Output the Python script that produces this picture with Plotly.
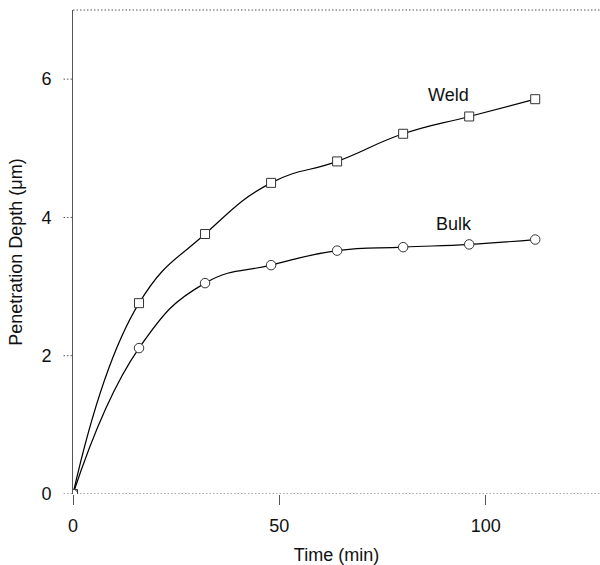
import plotly.graph_objects as go

time_min = [0, 16, 32, 48, 64, 80, 96, 112]
weld_depth = [0, 2.76, 3.76, 4.50, 4.81, 5.21, 5.46, 5.71]
bulk_depth = [0, 2.11, 3.05, 3.31, 3.52, 3.57, 3.61, 3.68]

x_ticks = [0, 50, 100]
y_ticks = [0, 2, 4, 6]

labels = [("Weld", 91.1, 5.77), ("Bulk", 92.3, 3.90)]

FONT = "Liberation Sans, Arial, sans-serif"
GRAY = "#555555"
DOTS = "1.5px,2px"

fig = go.Figure()
fig.add_trace(go.Scatter(
    x=time_min, y=weld_depth, mode="lines+markers", name="Weld",
    line=dict(color="black", width=1.2, shape="spline", smoothing=1.3),
    marker=dict(symbol="square", size=9, color="white", line=dict(color="#333333", width=1)),
))
fig.add_trace(go.Scatter(
    x=time_min, y=bulk_depth, mode="lines+markers", name="Bulk",
    line=dict(color="black", width=1.2, shape="spline", smoothing=1.3),
    marker=dict(symbol="circle", size=9.5, color="white", line=dict(color="#333333", width=1)),
))

for text, lx, ly in labels:
    fig.add_annotation(x=lx, y=ly, text=text, showarrow=False,
                       font=dict(family=FONT, size=18, color="#111111"))

# dotted zero line and dotted top frame
fig.add_shape(type="line", xref="paper", yref="y", x0=0, x1=1, y0=0, y1=0,
              line=dict(color=GRAY, width=1, dash=DOTS), layer="below")
fig.add_shape(type="line", xref="paper", yref="paper", x0=0, x1=1, y0=1, y1=1,
              line=dict(color=GRAY, width=1, dash=DOTS), layer="below")
# dotted y ticks
for t in y_ticks:
    fig.add_shape(type="line", xref="paper", yref="y", x0=-0.018, x1=0, y0=t, y1=t,
                  line=dict(color=GRAY, width=1, dash=DOTS))

fig.update_layout(
    width=600, height=565,
    margin=dict(l=73, r=0, t=10, b=71),
    paper_bgcolor="white", plot_bgcolor="white",
    showlegend=False,
    font=dict(family=FONT, size=18, color="#111111"),
    xaxis=dict(
        range=[0, 127.7], tickvals=x_ticks, ticks="outside", ticklen=10,
        tickcolor=GRAY, tickwidth=1, showgrid=False, zeroline=False, showline=False,
        ticklabelstandoff=5,
        title=dict(text="Time (min)", standoff=16, font=dict(size=18)),
        tickfont=dict(size=18),
    ),
    yaxis=dict(
        range=[0, 7], tickvals=y_ticks, ticks="outside", ticklen=10,
        tickcolor="rgba(0,0,0,0)",
        showgrid=False, zeroline=False, showline=True, linecolor=GRAY, linewidth=1,
        ticklabelstandoff=7,
        title=dict(text="Penetration Depth (μm)", standoff=14, font=dict(size=18)),
        tickfont=dict(size=18),
    ),
)

fig.write_html("out.html")
